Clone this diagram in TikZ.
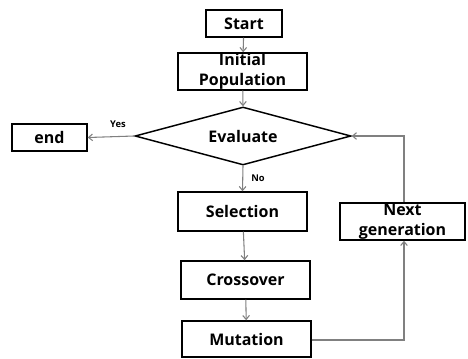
\documentclass[tikz,border=0pt]{standalone}
\usepackage{fontspec}
\setmainfont{Open Sans}
\usetikzlibrary{shapes.geometric,arrows.meta}
\tikzset{
  box/.style={draw=black, line width=1.1pt, inner sep=0pt, align=center,
    font=\bfseries\fontsize{12}{15}\selectfont},
  conn/.style={draw=black!50, line width=0.8pt, -{Straight Barb[length=3pt,width=5pt]}},
  lbl/.style={font=\bfseries\fontsize{7}{8}\selectfont, inner sep=0pt}
}
\begin{document}
\begin{tikzpicture}[x=0.75pt,y=-0.75pt]
\useasboundingbox (0,0) rectangle (468,358);
\node[box, minimum width=57pt, minimum height=20.25pt] (start) at (244,23.5) {Start};
\node[box, minimum width=96.75pt, minimum height=27.75pt] (init) at (242.5,71.5) {Initial\\Population};
\node[box, shape=diamond, aspect=3.7, minimum width=162pt, minimum height=43.5pt] (eval) at (243,136) {Evaluate};
\node[box, minimum width=56.25pt, minimum height=20.25pt] (end) at (49.5,137.5) {end};
\node[box, minimum width=96.75pt, minimum height=29.25pt] (sel) at (242.5,211.5) {Selection};
\node[box, minimum width=96.75pt, minimum height=28.5pt] (cross) at (245.5,280) {Crossover};
\node[box, minimum width=96.75pt, minimum height=27pt] (mut) at (246.5,339) {Mutation};
\node[box, minimum width=93.75pt, minimum height=27.75pt] (next) at (402.5,221.5) {Next\\generation};
\coordinate (c1) at (404,136);
\coordinate (c2) at (404,340);
\draw[conn] (start) -- (init);
\draw[conn] (init) -- (eval.north);
\draw[conn] (eval.west) -- (end.east) node[lbl, pos=0.35, above=6pt] {Yes};
\draw[conn] (eval.south) -- (sel.north) node[lbl, midway, right=6pt] {No};
\draw[conn] (sel) -- (cross);
\draw[conn] (cross) -- (mut);
\draw[conn] (mut.east |- c2) -- (c2) -- (next.south -| c2);
\draw[conn] (next.north -| c1) -- (c1) -- (eval.east);
\end{tikzpicture}
\end{document}
